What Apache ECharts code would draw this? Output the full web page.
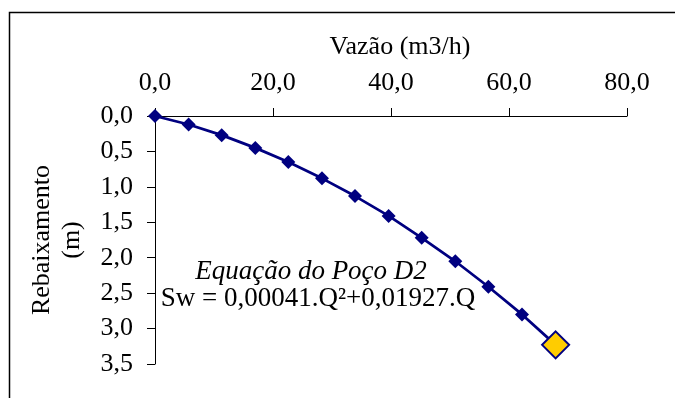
<!DOCTYPE html>
<html>
<head>
<meta charset="utf-8">
<script src="https://cdn.jsdelivr.net/npm/echarts@6/dist/echarts.min.js"></script>
<style>
  html, body { margin: 0; padding: 0; background: #ffffff; }
  #chart { width: 675px; height: 398px; }
</style>
</head>
<body>
<div id="chart"></div>
<script>
// Pumping test of well D2: flow rate (m3/h) versus drawdown (m)
const flowRates = [0.0, 5.7, 11.3, 17.0, 22.6, 28.3, 33.9, 39.6, 45.2, 50.9, 56.5, 62.2, 67.9];
const drawdowns = [0.00, 0.12, 0.27, 0.45, 0.65, 0.88, 1.13, 1.41, 1.72, 2.05, 2.41, 2.80, 3.23];
// index of the highlighted operating point (last one)
const highlightIndex = 12;

const xTicks = [0, 20, 40, 60, 80];
const yTicks = [0, 0.5, 1, 1.5, 2, 2.5, 3, 3.5];

const xTitle = 'Vazão (m3/h)';
const yTitle = 'Rebaixamento\n(m)';
const eqTitle = 'Equação do Poço D2';
const eqFormula = 'Sw = 0,00041.Q²+0,01927.Q';

const FONT = '"Liberation Serif", "Times New Roman", serif';
const NAVY = '#000080';

const fmt = v => v.toFixed(1).replace('.', ',');

const lineData = flowRates.map((q, i) => {
  const item = { value: [q, drawdowns[i]] };
  if (i === highlightIndex) {
    item.symbolSize = 27;
    item.itemStyle = { color: '#FFCC00', borderColor: NAVY, borderWidth: 2 };
  }
  return item;
});

const chart = echarts.init(document.getElementById('chart'));
chart.setOption({
  backgroundColor: '#ffffff',
  animation: false,
  grid: { left: 155, right: 48, top: 116, bottom: 34 },
  xAxis: {
    type: 'value',
    position: 'top',
    min: xTicks[0],
    max: xTicks[xTicks.length - 1],
    interval: 20,
    name: xTitle,
    nameLocation: 'middle',
    nameGap: 56,
    nameTextStyle: { fontFamily: FONT, fontSize: 26, color: '#000', padding: [0, 0, 0, 18] },
    axisLine: { show: true, lineStyle: { color: '#000', width: 1 } },
    axisTick: { show: true, length: 8, lineStyle: { color: '#000' } },
    axisLabel: { fontFamily: FONT, fontSize: 26, color: '#000', margin: 20, formatter: fmt },
    splitLine: { show: false }
  },
  yAxis: {
    type: 'value',
    inverse: true,
    min: yTicks[0],
    max: yTicks[yTicks.length - 1],
    interval: 0.5,
    name: yTitle,
    nameLocation: 'middle',
    nameGap: 68,
    nameTextStyle: { fontFamily: FONT, fontSize: 26, color: '#000', lineHeight: 30, align: 'center' },
    axisLine: { show: true, lineStyle: { color: '#000', width: 1 } },
    axisTick: { show: true, length: 8, lineStyle: { color: '#000' } },
    axisLabel: { fontFamily: FONT, fontSize: 26, color: '#000', margin: 22, formatter: fmt },
    splitLine: { show: false }
  },
  series: [{
    type: 'line',
    data: lineData,
    symbol: 'diamond',
    symbolSize: 14,
    lineStyle: { color: NAVY, width: 2.75 },
    itemStyle: { color: NAVY, borderColor: NAVY, borderWidth: 0 },
    z: 3
  }],
  graphic: [
    // chart area frame (top and left edges)
    { type: 'polyline', shape: { points: [[9.5, 398], [9.5, 12.5], [675, 12.5]] },
      style: { stroke: '#000', lineWidth: 1.5, fill: null }, silent: true },
    { type: 'text', x: 311, y: 272,
      style: { text: eqTitle, font: 'italic 27px ' + FONT, fill: '#000',
               textAlign: 'center', textVerticalAlign: 'middle' } },
    { type: 'text', x: 318, y: 299,
      style: { text: eqFormula, font: '27px ' + FONT, fill: '#000',
               textAlign: 'center', textVerticalAlign: 'middle' } }
  ]
});
</script>
</body>
</html>
